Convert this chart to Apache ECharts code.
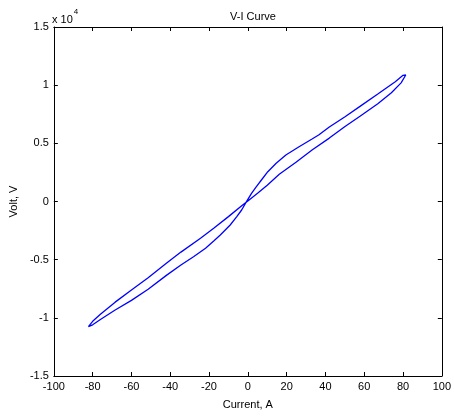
<!DOCTYPE html>
<html>
<head>
<meta charset="utf-8">
<script src="https://cdn.jsdelivr.net/npm/echarts@6/dist/echarts.min.js"></script>
<style>
html,body{margin:0;padding:0;background:#fff;}
#chart{width:454px;height:417px;}
</style>
</head>
<body>
<div id="chart"></div>
<script>
// Branch 1: from lower-left tip up to upper-right tip (the straighter branch)
const branch1Current = [-82.2, -80, -76, -68.4, -60, -51.4, -42, -34.5, -24.4, -17.6, -10, -3, 0, 5, 10, 16.2, 25, 33.1, 42, 50.1, 58, 67, 74, 79, 81.4];
const branch1Volt = [-10760, -10300, -9700, -8650, -7600, -6550, -5300, -4350, -3166, -2300, -1300, -350, 50, 700, 1400, 2350, 3400, 4427, 5450, 6450, 7350, 8400, 9350, 10200, 10874];
// Branch 2: from upper-right tip back to lower-left tip (S-shaped branch)
const branch2Current = [81.4, 80, 76, 67, 58, 50.1, 42, 36.5, 33.1, 26.4, 19.6, 14.6, 10.3, 7.0, 4.4, 1.9, -0.7, -3.2, -5.7, -9.1, -14.2, -17.6, -21.8, -28, -34.5, -42, -51.4, -60, -68.4, -76, -80, -82.2];
const branch2Volt = [10874, 10850, 10300, 9241, 8200, 7290, 6400, 5717, 5373, 4711, 3997, 3284, 2562, 1848, 1272, 705, -17, -731, -1307, -2020, -2880, -3400, -4023, -4750, -5459, -6350, -7547, -8500, -9327, -10150, -10600, -10760];

const xTicks = [-100, -80, -60, -40, -20, 0, 20, 40, 60, 80, 100];
const yTickLabels = ['-1.5', '-1', '-0.5', '0', '0.5', '1', '1.5'];

const loop = [];
branch1Current.forEach((c, i) => loop.push([c, branch1Volt[i]]));
branch2Current.forEach((c, i) => loop.push([c, branch2Volt[i]]));

const font = 'Liberation Sans, Arial, Helvetica, sans-serif';
const tickStyle = {show: true, inside: true, length: 4, lineStyle: {color: '#000', width: 1}};
const lineStyle = {show: true, onZero: false, lineStyle: {color: '#000', width: 1}};

const chart = echarts.init(document.getElementById('chart'), null, {renderer: 'canvas'});
chart.setOption({
  animation: false,
  backgroundColor: '#fff',
  title: {
    text: 'V-I Curve', left: 248, top: 6, textAlign: 'center',
    textStyle: {fontFamily: font, fontSize: 11, fontWeight: 'normal', color: '#000'}
  },
  grid: {left: 51, right: 9, top: 27, bottom: 41, containLabel: false},
  xAxis: [{
    type: 'value', min: xTicks[0], max: xTicks[xTicks.length - 1], interval: 20,
    position: 'bottom',
    name: 'Current, A', nameLocation: 'middle', nameGap: 23,
    nameTextStyle: {fontFamily: font, fontSize: 11, color: '#000'},
    axisLine: lineStyle, axisTick: tickStyle, splitLine: {show: false},
    axisLabel: {fontFamily: font, fontSize: 11, color: '#000', margin: 5, showMinLabel: true, showMaxLabel: true}
  }, {
    type: 'value', min: xTicks[0], max: xTicks[xTicks.length - 1], interval: 20,
    position: 'top',
    axisLine: lineStyle, axisTick: tickStyle, splitLine: {show: false},
    axisLabel: {show: false}
  }],
  yAxis: [{
    type: 'value', min: -15000, max: 15000, interval: 5000,
    position: 'left',
    name: 'Volt, V', nameLocation: 'middle', nameGap: 31, nameRotate: 90,
    nameTextStyle: {fontFamily: font, fontSize: 11, color: '#000'},
    axisLine: lineStyle, axisTick: tickStyle, splitLine: {show: false},
    axisLabel: {
      fontFamily: font, fontSize: 11, color: '#000', margin: 5,
      formatter: v => yTickLabels[Math.round((v + 15000) / 5000)]
    }
  }, {
    type: 'value', min: -15000, max: 15000, interval: 5000,
    position: 'right',
    axisLine: lineStyle, axisTick: tickStyle, splitLine: {show: false},
    axisLabel: {show: false}
  }],
  graphic: [{
    type: 'text', left: 52, top: 8,
    style: {
      text: '{a|x 10}{b|4}',
      rich: {
        a: {fontFamily: font, fontSize: 11, fill: '#000', verticalAlign: 'bottom', padding: [6, 0, 0, 0]},
        b: {fontFamily: font, fontSize: 8, fill: '#000', verticalAlign: 'top', padding: [0, 0, 6, 1]}
      }
    }
  }],
  series: [{
    type: 'line', xAxisIndex: 0, yAxisIndex: 0,
    data: loop, showSymbol: false, symbol: 'none',
    lineStyle: {color: '#0000ff', width: 1.3},
    clip: true
  }]
});
</script>
</body>
</html>
